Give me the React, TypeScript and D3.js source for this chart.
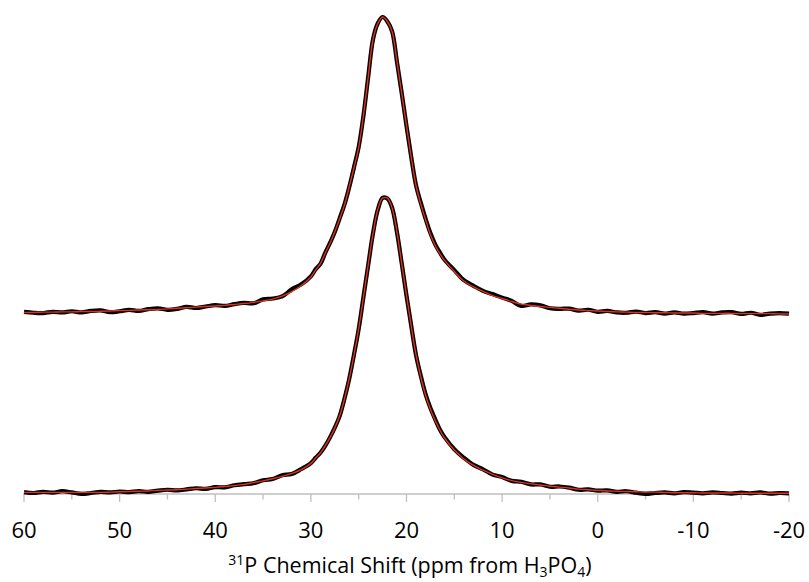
import React from "react";
import * as d3 from "d3";

// chemical shift grid (ppm), finer across the peak
const ppm = [
  60, 59, 58, 57, 56, 55, 54, 53, 52, 51, 50, 49, 48, 47, 46, 45, 44, 43, 42, 41,
  40, 39, 38, 37, 36, 35, 34, 33, 32, 31, 30,
  29.5, 29, 28.5, 28, 27.5, 27, 26.5, 26, 25.5, 25, 24.5, 24, 23.5, 23, 22.5, 22,
  21.5, 21, 20.5, 20, 19.5, 19, 18.5, 18, 17.5, 17, 16.5, 16,
  15, 14, 13, 12, 11, 10, 9, 8, 7, 6, 5, 4, 3, 2, 1, 0, -1, -2, -3, -4, -5, -6,
  -7, -8, -9, -10, -11, -12, -13, -14, -15, -16, -17, -18, -19, -20,
];

// upper trace (normalised), measured and fitted
const topExp = [
  0.004, 0.001, 0.0, 0.004, 0.002, 0.006, 0.002, 0.007, 0.009, 0.003, 0.006, 0.011,
  0.007, 0.013, 0.016, 0.011, 0.014, 0.021, 0.017, 0.022, 0.027, 0.024, 0.03, 0.034,
  0.033, 0.046, 0.049, 0.056, 0.08, 0.097, 0.124,
  0.148, 0.166, 0.203, 0.237, 0.274, 0.319, 0.365, 0.424, 0.491, 0.561, 0.667, 0.799,
  0.925, 0.979, 1.0, 0.985, 0.951, 0.849, 0.743, 0.632, 0.526, 0.431, 0.372, 0.318,
  0.27, 0.232, 0.204, 0.179,
  0.145, 0.111, 0.092, 0.075, 0.064, 0.052, 0.041, 0.024, 0.029, 0.026, 0.016, 0.014,
  0.015, 0.008, 0.011, 0.004, 0.007, 0.002, 0.001, 0.005, 0.0, 0.003, -0.002, 0.002,
  -0.002, 0.0, 0.003, -0.002, 0.002, 0.003, -0.003, 0.001, -0.006, -0.002, 0.0, -0.002,
];
const topFit = [
  0.002, 0.002, 0.003, 0.003, 0.004, 0.004, 0.005, 0.005, 0.006, 0.007, 0.008, 0.009,
  0.01, 0.011, 0.012, 0.014, 0.016, 0.018, 0.02, 0.022, 0.024, 0.026, 0.029, 0.032,
  0.036, 0.041, 0.047, 0.057, 0.072, 0.093, 0.122,
  0.146, 0.167, 0.202, 0.236, 0.275, 0.318, 0.364, 0.425, 0.49, 0.56, 0.668, 0.798,
  0.925, 0.978, 1.0, 0.985, 0.95, 0.85, 0.742, 0.633, 0.525, 0.43, 0.367, 0.315,
  0.265, 0.228, 0.2, 0.177,
  0.14, 0.108, 0.088, 0.073, 0.059, 0.049, 0.039, 0.03, 0.026, 0.022, 0.019, 0.016,
  0.013, 0.01, 0.008, 0.007, 0.005, 0.004, 0.003, 0.002, 0.002, 0.001, 0.001, 0.0,
  0.0, 0.0, -0.001, -0.001, -0.001, -0.001, -0.002, -0.002, -0.002, -0.002, -0.003, -0.003,
];

// lower trace (normalised), measured and fitted
const botExp = [
  0.003, 0.0, 0.004, 0.001, 0.006, 0.002, -0.003, 0.0, 0.004, 0.002, 0.005, 0.003,
  0.006, 0.004, 0.008, 0.011, 0.009, 0.012, 0.016, 0.014, 0.02, 0.019, 0.026, 0.03,
  0.033, 0.043, 0.047, 0.06, 0.064, 0.081, 0.101,
  0.119, 0.136, 0.159, 0.188, 0.221, 0.259, 0.317, 0.384, 0.466, 0.554, 0.663, 0.771,
  0.878, 0.957, 0.997, 0.995, 0.963, 0.881, 0.776, 0.667, 0.564, 0.465, 0.395, 0.333,
  0.287, 0.249, 0.214, 0.188,
  0.148, 0.119, 0.095, 0.08, 0.062, 0.054, 0.041, 0.038, 0.029, 0.029, 0.021, 0.022,
  0.018, 0.011, 0.012, 0.008, 0.009, 0.004, 0.006, 0.001, -0.003, 0.0, 0.002, -0.001,
  0.003, 0.001, -0.001, 0.002, 0.0, -0.002, 0.001, -0.001, 0.002, -0.002, 0.0, -0.001,
];
const botFit = [
  0.002, 0.002, 0.002, 0.002, 0.002, 0.002, 0.002, 0.002, 0.002, 0.003, 0.004, 0.005,
  0.006, 0.007, 0.009, 0.01, 0.011, 0.013, 0.015, 0.017, 0.019, 0.022, 0.025, 0.029,
  0.035, 0.041, 0.048, 0.056, 0.066, 0.079, 0.1,
  0.118, 0.135, 0.16, 0.187, 0.22, 0.26, 0.316, 0.385, 0.465, 0.555, 0.662, 0.772,
  0.877, 0.958, 0.996, 0.996, 0.962, 0.882, 0.775, 0.668, 0.563, 0.466, 0.392, 0.33,
  0.283, 0.245, 0.212, 0.185,
  0.145, 0.115, 0.093, 0.077, 0.063, 0.051, 0.042, 0.036, 0.031, 0.027, 0.023, 0.02,
  0.017, 0.013, 0.011, 0.009, 0.007, 0.006, 0.005, 0.004, 0.003, 0.003, 0.002, 0.001,
  0.001, 0.001, 0.0, 0.0, 0.0, 0.0, -0.001, -0.001, -0.001, -0.001, -0.001, -0.001,
];

const topOffset = 0.608;
const majorTicks = [60, 50, 40, 30, 20, 10, 0, -10, -20];
const minorTicks = [55, 45, 35, 25, 15, 5, -5, -15];

const W = 809;
const H = 582;
const font = "'Open Sans', 'DejaVu Sans', sans-serif";

export default function App() {
  const x = d3.scaleLinear().domain([60, -20]).range([24, 789]);
  const y = d3.scaleLinear().domain([0, 1]).range([493, 197]);
  const axisY = 494;

  const line = (vals: number[], off: number) =>
    d3
      .line<number>()
      .x((_, i) => x(ppm[i]))
      .y((v) => y(v + off))
      .curve(d3.curveCatmullRom)(vals) || "";

  const traces = [
    { exp: topExp, fit: topFit, off: topOffset },
    { exp: botExp, fit: botFit, off: 0 },
  ];

  return (
    <svg width={W} height={H} style={{ position: "absolute", left: 0, top: 0 }}>
      <rect width={W} height={H} fill="#fff" />
      <line x1={x(60)} x2={x(-20)} y1={axisY} y2={axisY} stroke="#bfbfbf" strokeWidth={1.3} />
      {majorTicks.map((t) => (
        <line key={"M" + t} x1={x(t)} x2={x(t)} y1={axisY} y2={axisY + 8} stroke="#bfbfbf" strokeWidth={1.3} />
      ))}
      {minorTicks.map((t) => (
        <line key={"m" + t} x1={x(t)} x2={x(t)} y1={axisY} y2={axisY + 5.5} stroke="#bfbfbf" strokeWidth={1.3} />
      ))}
      {traces.map((tr, k) => (
        <g key={k}>
          <path d={line(tr.exp, tr.off)} fill="none" stroke="#000" strokeWidth={4.2} strokeLinejoin="round" />
          <path d={line(tr.fit, tr.off)} fill="none" stroke="#e0301e" strokeWidth={1.4} />
        </g>
      ))}
      {majorTicks.map((t) => (
        <text key={"l" + t} x={x(t)} y={538} textAnchor="middle" fontFamily={font} fontSize={22} fill="#000">
          {t}
        </text>
      ))}
      <text x={410} y={573} textAnchor="middle" fontFamily={font} fontSize={21.5} fill="#000">
        <tspan fontSize={14} dy={-8}>31</tspan>
        <tspan dy={8}>P Chemical Shift (ppm from H</tspan>
        <tspan fontSize={14} dy={4}>3</tspan>
        <tspan dy={-4}>PO</tspan>
        <tspan fontSize={14} dy={4}>4</tspan>
        <tspan dy={-4}>)</tspan>
      </text>
    </svg>
  );
}
